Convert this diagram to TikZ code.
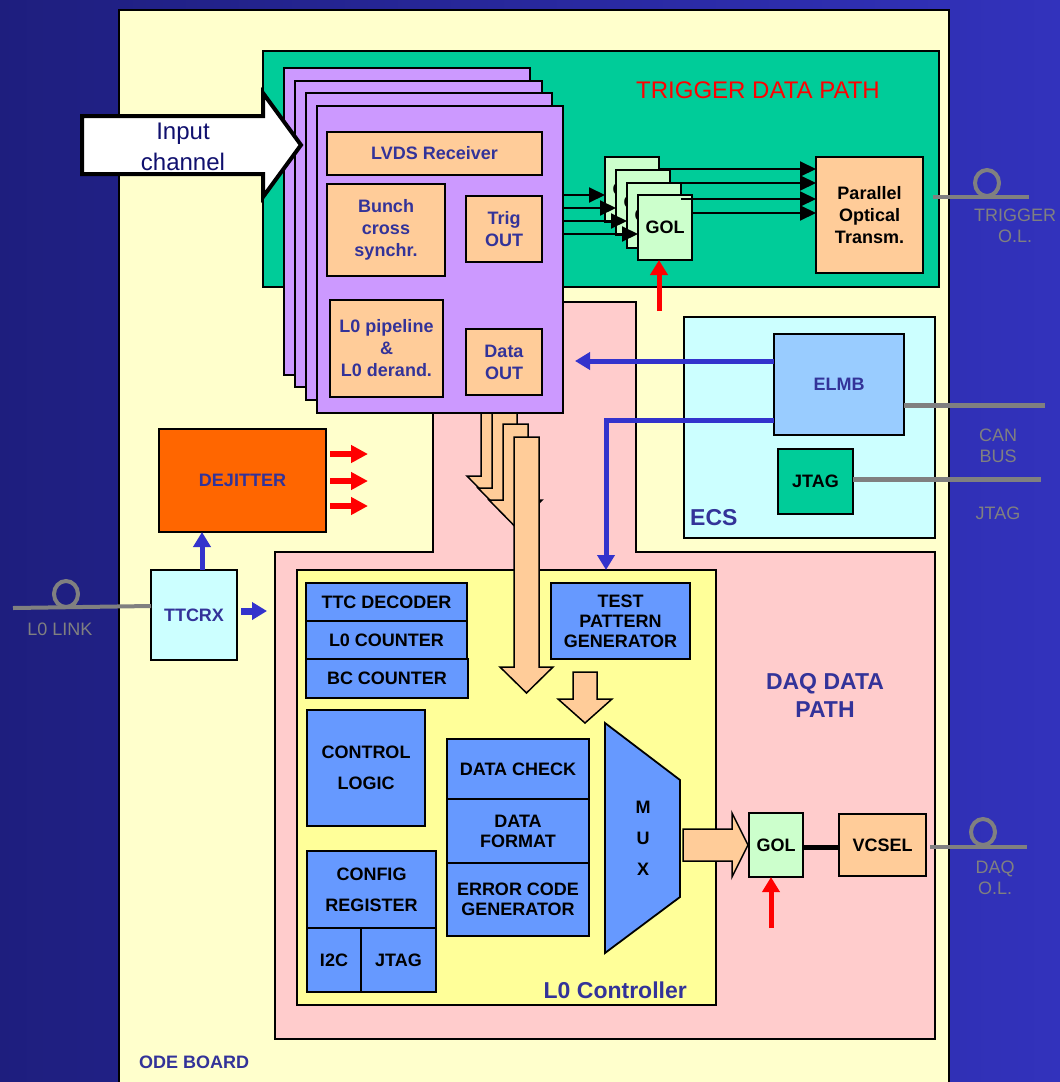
\documentclass[tikz,border=0pt]{standalone}
\usepackage{fontspec}
\setmainfont{Liberation Sans}
\usetikzlibrary{arrows.meta}
\definecolor{bgleft}{RGB}{30,30,126}
\definecolor{bgright}{RGB}{50,50,188}
\definecolor{odeyel}{RGB}{255,255,204}
\definecolor{trgreen}{RGB}{0,204,153}
\definecolor{brdpurple}{RGB}{204,153,255}
\definecolor{orbox}{RGB}{255,204,153}
\definecolor{pinkbg}{RGB}{255,204,204}
\definecolor{cyanbox}{RGB}{204,255,255}
\definecolor{elmbblue}{RGB}{153,204,255}
\definecolor{ctlyel}{RGB}{255,255,153}
\definecolor{bluebox}{RGB}{102,153,255}
\definecolor{dejorange}{RGB}{255,102,0}
\definecolor{golgreen}{RGB}{204,255,204}
\definecolor{txtblue}{RGB}{51,51,153}
\definecolor{arrblue}{RGB}{51,51,204}
\definecolor{fibgray}{RGB}{128,128,128}
\definecolor{navytxt}{RGB}{16,16,110}
\newcommand\myfs[2]{\fontsize{#1}{#2}\selectfont}
\newcommand\fatdown[6]{%
  \filldraw[fat] (#1,#2) -- ({#1+#4},#2) -- ({#1+#4},#3) -- ({#1+#4+#5},#3) -- ({#1+#4/2},{#3+#6}) -- ({#1-#5},#3) -- (#1,#3) -- cycle;}
\begin{document}
\begin{tikzpicture}[x=1pt,y=-1pt,
  bx/.style={draw=black, line width=1.8pt, inner sep=0pt, outer sep=0pt, anchor=north west, align=center, font=\myfs{18}{21}\bfseries},
  bt/.style={text=txtblue},
  board/.style={bx, fill=brdpurple},
  orb/.style={bx, fill=orbox},
  blb/.style={bx, fill=bluebox},
  gol/.style={bx, fill=golgreen, minimum width=54pt, minimum height=65pt},
  region/.style={draw=black, line width=1.8pt},
  blkarr/.style={draw=black, line width=2pt, -{Triangle[width=15pt,length=16pt]}},
  bluearr/.style={draw=arrblue, line width=5pt, -{Triangle[width=17pt,length=15pt]}},
  redarr/.style={draw=red, line width=5pt, -{Triangle[width=17pt,length=15pt]}},
  fib/.style={draw=fibgray, line width=4pt},
  fat/.style={draw=black, line width=1.5pt, fill=orbox, line join=miter},
  grtxt/.style={text=fibgray, font=\myfs{18}{21}, inner sep=0pt, align=center},
  sect/.style={text=txtblue, font=\myfs{23}{28}\bfseries, inner sep=0pt, align=center}
]
\useasboundingbox (0,0) rectangle (1060,1082);
\clip (0,0) rectangle (1060,1082);
\shade[left color=bgleft, right color=bgright] (0,0) rectangle (1060,1082);

% ODE board
\filldraw[region, fill=odeyel] (119,10) rectangle (949,1100);
% trigger data path region
\filldraw[region, fill=trgreen] (263,51) rectangle (939,287);
\node[text=red, font=\myfs{24}{28}, inner sep=0pt] (trglbl) at (758,90) {TRIGGER DATA PATH};

% DAQ pink region
\filldraw[region, fill=pinkbg] (433,302) -- (636,302) -- (636,552) -- (935,552) -- (935,1039) -- (275,1039) -- (275,552) -- (433,552) -- cycle;
\node[sect] (daqlbl) at (825,695) {DAQ DATA\\PATH};

% ECS
\node[bx, fill=cyanbox, minimum width=251pt, minimum height=221pt] (ecs) at (684,317) {};
\node[bx, bt, fill=elmbblue, minimum width=130pt, minimum height=101pt] (elmb) at (774,334) {ELMB};
\node[bx, fill=trgreen, minimum width=75pt, minimum height=65pt] (jtage) at (778,449) {JTAG};
\node[sect, anchor=west] (ecslbl) at (690,518) {ECS};

% L0 controller
\node[bx, fill=ctlyel, minimum width=419pt, minimum height=435pt] (l0ctl) at (297,570) {};
\node[sect, anchor=east] (l0lbl) at (687,990) {L0 Controller};
\node[blb, minimum width=161pt, minimum height=38pt] (ttc) at (306,583) {TTC DECODER};
\node[blb, minimum width=161pt, minimum height=38pt] (l0c) at (306,621) {L0 COUNTER};
\node[blb, minimum width=162pt, minimum height=39pt] (bcc) at (306,659) {BC COUNTER};
\node[blb, minimum width=139pt, minimum height=76pt, font=\myfs{18}{20}\bfseries] (tpg) at (551,583) {TEST\\PATTERN\\GENERATOR};
\node[blb, minimum width=118pt, minimum height=116pt] (ctrl) at (307,710) {CONTROL\\[10pt]LOGIC};
\node[blb, minimum width=129pt, minimum height=77pt] (cfg) at (307,851) {CONFIG\\[10pt]REGISTER};
\node[blb, minimum width=54pt, minimum height=64pt] (i2c) at (307,928) {I2C};
\node[blb, minimum width=75pt, minimum height=64pt] (jtagl) at (361,928) {JTAG};
\node[blb, minimum width=142pt, minimum height=60pt] (dchk) at (447,739) {DATA CHECK};
\node[blb, minimum width=142pt, minimum height=64pt, font=\myfs{18}{20}\bfseries] (dfmt) at (447,799) {DATA\\FORMAT};
\node[blb, minimum width=142pt, minimum height=73pt, font=\myfs{18}{20}\bfseries] (ecg) at (447,863) {ERROR CODE\\GENERATOR};
\filldraw[draw=black, line width=1.8pt, fill=bluebox] (605,723) -- (680,780) -- (680,897) -- (605,953) -- cycle;
\node[font=\myfs{18}{31}\bfseries, align=center, inner sep=0pt] (mux) at (643,838) {M\\U\\X};

% fat data arrows
\fatdown{481}{400}{476}{25}{14}{27}
\fatdown{492}{413}{488}{25}{14}{27}
\fatdown{503}{424}{500}{25}{14}{27}
\fatdown{514}{437}{667}{25}{14}{26}
\fatdown{573}{672}{699}{24}{15}{24}
\filldraw[fat] (683,829) -- (732,829) -- (732,813) -- (748,845) -- (732,877) -- (732,861) -- (683,861) -- cycle;

% DAQ GOL and VCSEL
\node[gol, minimum height=64pt] (dgol) at (749,813) {GOL};
\node[orb, minimum width=87pt, minimum height=62pt] (vcsel) at (839,814) {VCSEL};
\draw[line width=5pt] (dgol.east |- 0,847) -- (vcsel.west |- 0,847);
\coordinate (r2) at (771,928);
\draw[redarr] (r2) -- (r2 |- dgol.south);

% front-end boards
\node[board, minimum width=246pt, minimum height=307pt] (b1) at (284,68) {};
\node[board, minimum width=247pt, minimum height=306pt] (b2) at (295,81) {};
\node[board, minimum width=246pt, minimum height=307pt] (b3) at (306,93) {};
\node[board, minimum width=246pt, minimum height=307pt] (b4) at (317,106) {};
\node[orb, bt, minimum width=215pt, minimum height=43pt] (lvds) at (327,132) {LVDS Receiver};
\node[orb, bt, minimum width=118pt, minimum height=92pt, font=\myfs{18}{22}\bfseries] (bunch) at (327,184) {Bunch\\cross\\synchr.};
\node[orb, bt, minimum width=76pt, minimum height=66pt, font=\myfs{18}{22}\bfseries] (trig) at (466,196) {Trig\\OUT};
\node[orb, bt, minimum width=113pt, minimum height=97pt, font=\myfs{18}{22}\bfseries] (pipe) at (330,300) {L0 pipeline\\\&\\L0 derand.};
\node[orb, bt, minimum width=76pt, minimum height=66pt, font=\myfs{18}{22}\bfseries] (dout) at (466,329) {Data\\OUT};

% trigger GOLs
\node[gol] (g1) at (605,157) {GOL};
\node[gol] (g2) at (616,170) {GOL};
\node[gol] (g3) at (627,183) {GOL};
\node[gol] (g4) at (638,195) {GOL};
\node[orb, minimum width=107pt, minimum height=116pt, font=\myfs{18}{22}\bfseries] (par) at (816,157) {Parallel\\Optical\\Transm.};
\draw[blkarr] (b4.east |- 0,195) -- (g1.west |- 0,195);
\draw[blkarr] (b4.east |- 0,208) -- (g2.west |- 0,208);
\draw[blkarr] (b4.east |- 0,221) -- (g3.west |- 0,221);
\draw[blkarr] (b4.east |- 0,234) -- (g4.west |- 0,234);
\draw[blkarr] (g1.east |- 0,169) -- (par.west |- 0,169);
\draw[blkarr] (g2.east |- 0,183) -- (par.west |- 0,183);
\draw[blkarr] (g3.east |- 0,199) -- (par.west |- 0,199);
\draw[blkarr] (g4.east |- 0,213) -- (par.west |- 0,213);
\coordinate (r1) at (659,311);
\draw[redarr] (r1) -- (r1 |- g4.south);

% input channel arrow
\filldraw[draw=black, line width=4pt, fill=white, line join=miter] (82,116) -- (263,116) -- (263,93) -- (301,145) -- (263,197) -- (263,174) -- (82,174) -- cycle;
\node[text=navytxt, font=\myfs{24}{31}, align=center, inner sep=0pt] (inlbl) at (183,147) {Input\\channel};

% ECS connections
\coordinate (e1) at (575,361);
\draw[bluearr] (elmb.west |- e1) -- (e1);
\coordinate (e2) at (606,420);
\draw[bluearr] (elmb.west |- e2) -- (e2) -- (e2 |- l0ctl.north);
\draw[fib, line width=5pt] (elmb.east |- 0,405) -- (1045,405);
\draw[fib, line width=5pt] (jtage.east |- 0,479) -- ++(188,0);
\node[grtxt] (canlbl) at (998,446) {CAN\\BUS};
\node[grtxt] (jtaglbl) at (998,513) {JTAG};

% trigger optical link
\draw[fib] (933,197) -- (1029,197);
\draw[fib] (987,183) ellipse [x radius=12pt, y radius=13pt];
\node[grtxt] (trgol) at (1015,226) {TRIGGER\\O.L.};

% DAQ optical link
\draw[fib] (vcsel.east |- 0,847) ++(4,0) -- (1027,847);
\draw[fib] (983,832) ellipse [x radius=12pt, y radius=13pt];
\node[grtxt] (daqol) at (995,878) {DAQ\\O.L.};

% DEJITTER and TTCRX
\node[bx, bt, fill=dejorange, minimum width=167pt, minimum height=103pt] (dej) at (159,429) {DEJITTER};
\node[bx, bt, fill=cyanbox, minimum width=86pt, minimum height=90pt] (ttcrx) at (151,570) {TTCRX};
\coordinate (t1) at (202,570);
\draw[bluearr] (t1) -- (t1 |- dej.south);
\coordinate (t2s) at (241,611);
\coordinate (t2e) at (267,611);
\draw[bluearr, line width=7pt] (t2s) -- (t2e);
\foreach \yy/\nm in {454/da, 481/db, 506/dc} {
  \coordinate (\nm) at (368,\yy);
  \draw[draw=red, line width=6pt, -{Triangle[width=17pt,length=17pt]}] (dej.east |- \nm) ++(4,0) -- (\nm);
}
\draw[fib] (13,608) -- (ttcrx.west |- 0,606);
\draw[fib] (66,594) ellipse [x radius=12pt, y radius=13pt];
\node[grtxt] (l0link) at (60,629) {L0 LINK};

\node[text=txtblue, font=\myfs{18}{21}\bfseries, anchor=west, inner sep=0pt] (odelbl) at (139,1062) {ODE BOARD};
\end{tikzpicture}
\end{document}
